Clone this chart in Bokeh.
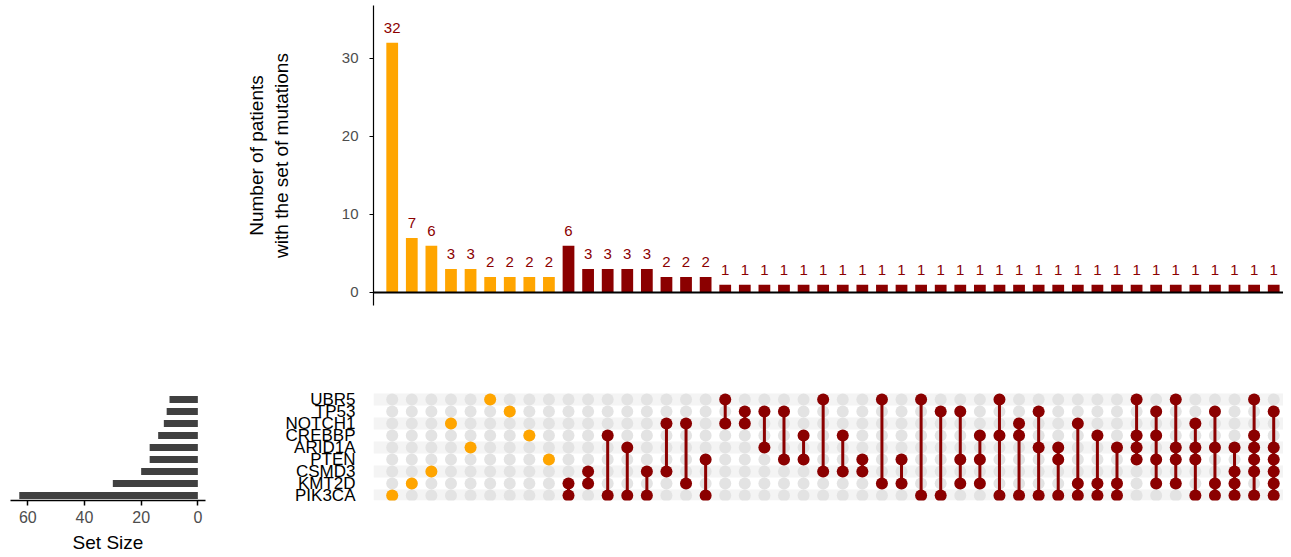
from bokeh.plotting import figure
from bokeh.models import Range1d, FixedTicker, Span
from bokeh.layouts import column, row
from bokeh.embed import file_html
from bokeh.resources import INLINE
from bokeh.core.properties import value

# ---------------- data ----------------
genes = ["PIK3CA", "KMT2D", "CSMD3", "PTEN", "ARID1A", "CREBBP", "NOTCH1", "TP53", "UBR5"]
set_sizes = [63, 30, 20, 17, 17, 14, 12, 11, 10]

intersections = [
    ["PIK3CA"], ["KMT2D"], ["CSMD3"], ["NOTCH1"], ["ARID1A"], ["UBR5"], ["TP53"], ["CREBBP"], ["PTEN"],
    ["KMT2D", "PIK3CA"], ["CSMD3", "KMT2D"], ["CREBBP", "PIK3CA"], ["ARID1A", "PIK3CA"],
    ["CSMD3", "PIK3CA"], ["NOTCH1", "CSMD3"], ["NOTCH1", "KMT2D"], ["PTEN", "PIK3CA"],
    ["UBR5", "NOTCH1"], ["TP53", "NOTCH1"], ["TP53", "ARID1A"], ["TP53", "PTEN"],
    ["CREBBP", "PTEN"], ["UBR5", "CSMD3"], ["CREBBP", "CSMD3"], ["PTEN", "CSMD3"],
    ["UBR5", "KMT2D"], ["PTEN", "KMT2D"], ["UBR5", "PIK3CA"], ["TP53", "PIK3CA"],
    ["TP53", "PTEN", "KMT2D"], ["CREBBP", "PTEN", "KMT2D"], ["UBR5", "CREBBP", "PIK3CA"],
    ["NOTCH1", "CREBBP", "PIK3CA"], ["TP53", "ARID1A", "PIK3CA"], ["ARID1A", "PTEN", "PIK3CA"],
    ["NOTCH1", "KMT2D", "PIK3CA"], ["CREBBP", "KMT2D", "PIK3CA"], ["ARID1A", "KMT2D", "PIK3CA"],
    ["UBR5", "CREBBP", "ARID1A", "PTEN"], ["TP53", "CREBBP", "PTEN", "KMT2D"],
    ["UBR5", "ARID1A", "PTEN", "KMT2D"], ["NOTCH1", "ARID1A", "PTEN", "PIK3CA"],
    ["TP53", "ARID1A", "KMT2D", "PIK3CA"], ["ARID1A", "CSMD3", "KMT2D", "PIK3CA"],
    ["UBR5", "CREBBP", "ARID1A", "PTEN", "CSMD3", "PIK3CA"],
    ["TP53", "ARID1A", "PTEN", "CSMD3", "KMT2D", "PIK3CA"],
]
counts = [32, 7, 6, 3, 3, 2, 2, 2, 2,
          6, 3, 3, 3, 3, 2, 2, 2,
          1, 1, 1, 1, 1, 1, 1, 1, 1, 1, 1, 1,
          1, 1, 1, 1, 1, 1, 1, 1, 1,
          1, 1, 1, 1, 1, 1, 1, 1]

# ---------------- style ----------------
FONT = "Liberation Sans"
ORANGE = "#FFA500"
DARKRED = "#8B0000"
GRAYTXT = "#4D4D4D"

n = len(intersections)
xs = list(range(n))
colors = [ORANGE if len(s) == 1 else DARKRED for s in intersections]
gidx = {g: i for i, g in enumerate(genes)}
XR = (-0.955, 45.5)


def clean(p):
    p.xgrid.visible = False
    p.ygrid.visible = False
    p.outline_line_color = None
    p.background_fill_color = "white"
    p.border_fill_color = "white"


# ---------------- top: intersection sizes ----------------
top = figure(width=1283, height=320, x_range=Range1d(*XR), y_range=Range1d(-1.667, 36.79),
             output_backend="svg", toolbar_location=None,
             min_border_left=373, min_border_right=0, min_border_top=5, min_border_bottom=15)
clean(top)
top.vbar(x=xs, top=counts, width=0.6, fill_color=colors, line_color=None)
top.text(x=xs, y=counts, text=[str(c) for c in counts], text_align="center",
         text_baseline="alphabetic", y_offset=-15, text_font=value(FONT),
         text_font_size="15px", text_color=DARKRED)
top.add_layout(Span(location=0, dimension="width", line_color="black", line_width=2))
top.xaxis.visible = False
ya = top.yaxis[0]
ya.ticker = FixedTicker(ticks=[0, 10, 20, 30])
ya.minor_tick_line_color = None
ya.major_tick_out = 4
ya.major_tick_in = 0
ya.major_tick_line_color = "black"
ya.axis_line_color = "black"
ya.axis_line_width = 1.2
ya.major_label_standoff = 11
ya.major_label_text_font = FONT
ya.major_label_text_font_size = "15px"
ya.major_label_text_color = GRAYTXT
ya.axis_label = "Number of patients\nwith the set of mutations"
ya.axis_label_text_font = FONT
ya.axis_label_text_font_size = "19px"
ya.axis_label_text_font_style = "normal"
ya.axis_label_text_color = "black"
ya.axis_label_standoff = 47

# ---------------- bottom-left: set sizes ----------------
YR = (-0.4167, 8.583)
ss = figure(width=212, height=237, x_range=Range1d(66.1, -2.7), y_range=Range1d(*YR),
            output_backend="svg", toolbar_location=None,
            min_border_left=10, min_border_right=7, min_border_top=72, min_border_bottom=57)
clean(ss)
ss.hbar(y=list(range(len(genes))), left=0, right=set_sizes, height=0.58,
        fill_color="#404040", line_color=None)
ss.yaxis.visible = False
xa = ss.xaxis[0]
xa.ticker = FixedTicker(ticks=[0, 20, 40, 60])
xa.minor_tick_line_color = None
xa.major_tick_out = 5
xa.major_tick_in = 0
xa.major_tick_line_width = 1.5
xa.axis_line_width = 1.5
xa.major_label_standoff = 5
xa.major_label_text_font = FONT
xa.major_label_text_font_size = "16px"
xa.major_label_text_color = GRAYTXT
xa.axis_label = "Set Size"
xa.axis_label_text_font = FONT
xa.axis_label_text_font_size = "19px"
xa.axis_label_text_font_style = "normal"
xa.axis_label_text_color = "black"
xa.axis_label_standoff = 6

# ---------------- bottom-right: matrix ----------------
mat = figure(width=1071, height=237, x_range=Range1d(*XR), y_range=Range1d(*YR),
             output_backend="svg", toolbar_location=None,
             min_border_left=161, min_border_right=0, min_border_top=72, min_border_bottom=57)
clean(mat)
stripe_rows = [i for i in range(len(genes)) if i % 2 == 0]
mat.hbar(y=stripe_rows, left=XR[0], right=XR[1], height=1, fill_color="#F4F4F4", line_color=None)

gx, gy = [], []
for i in range(n):
    for j in range(len(genes)):
        gx.append(i)
        gy.append(j)
mat.scatter(x=gx, y=gy, size=12, fill_color="#E3E3E3", line_color=None)

sx0, sy0, sy1 = [], [], []
for i, s in enumerate(intersections):
    rows_ = [gidx[g] for g in s]
    if len(rows_) > 1:
        sx0.append(i)
        sy0.append(min(rows_))
        sy1.append(max(rows_))
mat.segment(x0=sx0, y0=sy0, x1=sx0, y1=sy1, line_color=DARKRED, line_width=3)

ax, ay, ac = [], [], []
for i, s in enumerate(intersections):
    for g in s:
        ax.append(i)
        ay.append(gidx[g])
        ac.append(colors[i])
mat.scatter(x=ax, y=ay, size=12, fill_color=ac, line_color=None)

mat.xaxis.visible = False
my = mat.yaxis[0]
my.ticker = FixedTicker(ticks=list(range(len(genes))))
my.major_label_overrides = {i: g for i, g in enumerate(genes)}
my.axis_line_color = None
my.major_tick_line_color = None
my.minor_tick_line_color = None
my.major_tick_out = 0
my.major_tick_in = 0
my.major_label_standoff = 18
my.major_label_text_font = FONT
my.major_label_text_font_size = "17px"
my.major_label_text_color = "black"

layout = column(top, row(ss, mat))
open("out.html", "w").write(file_html(layout, INLINE))
